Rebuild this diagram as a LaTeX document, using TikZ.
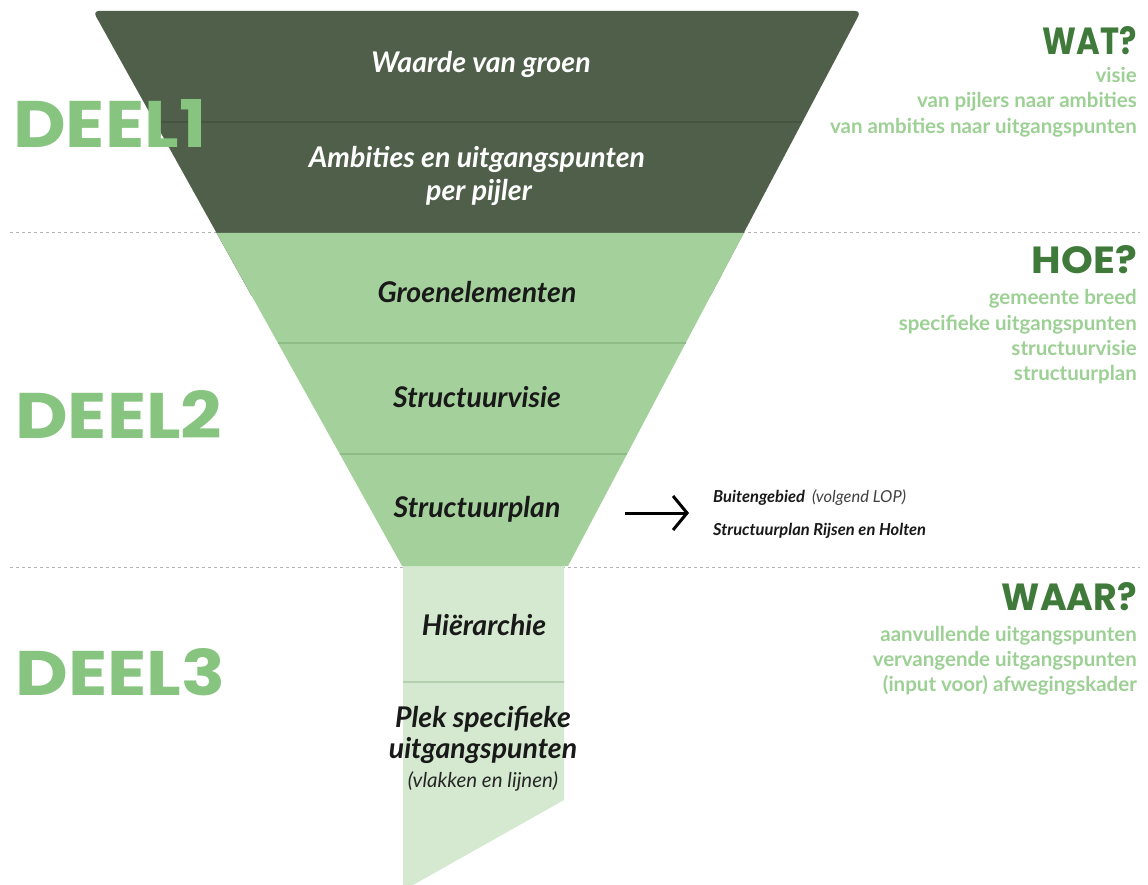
\documentclass[tikz,border=0pt]{standalone}
\usepackage{fontspec}
\setmainfont{Lato}
\newfontfamily\headfont{Poppins}
\usetikzlibrary{arrows.meta}
\definecolor{darkfun}{HTML}{4F5F4A}
\definecolor{darkdiv}{HTML}{45533F}
\definecolor{lightfun}{HTML}{A4D19B}
\definecolor{lightdiv}{HTML}{8DBC85}
\definecolor{stemfill}{HTML}{D4E9CF}
\definecolor{stemdiv}{HTML}{B6CFB0}
\definecolor{deelgreen}{HTML}{86C47F}
\definecolor{headgreen}{HTML}{3F7A3A}
\definecolor{subgreen}{HTML}{9DD094}
\definecolor{sepgray}{HTML}{B4B4B4}
\begin{document}
\begin{tikzpicture}[x=1pt,y=-1pt,
  sepline/.style={sepgray, line width=1pt, dash pattern=on 3pt off 3pt},
  divline/.style={line width=2.5pt},
  funtxt/.style={inner sep=0pt, anchor=base, font=\fontsize{28.5}{32}\selectfont\bfseries\itshape},
  deel/.style={inner sep=0pt, anchor=base west, text=deelgreen, font=\headfont\bfseries},
  head/.style={inner sep=0pt, anchor=base east, text=headgreen, font=\headfont\bfseries},
  sub/.style={inner sep=0pt, anchor=base east, text=subgreen, font=\fontsize{20.5}{24}\selectfont\bfseries},
  small/.style={inner sep=0pt, anchor=base west, text=black!90, font=\fontsize{16.5}{19}\selectfont\bfseries\itshape},
  arrowline/.style={line width=3pt, -{Straight Barb[length=14pt,width=34pt]}}
]
\useasboundingbox (0,0) rectangle (1148,885);
\fill[white] (0,0) rectangle (1148,885);

% dashed separators
\draw[sepline] (10,233) -- (1140,233);
\draw[sepline] (10,567) -- (1140,567);

% stem (deel 3)
\fill[stemfill] (403,566) -- (564,566) -- (564,800) -- (413,885) -- (403,885) -- cycle;
\draw[stemdiv, divline] (403,682) -- (564,682);

% dark part (deel 1), extended below and covered by light part
\fill[darkfun, rounded corners=6pt] (253.9,300) -- (93,11) -- (861,11) -- (708.3,300) -- cycle;
\draw[darkdiv, divline] (154.8,122) -- (802.4,122);

% light part (deel 2)
\fill[lightfun] (216.7,233) -- (743.8,233) -- (568,566) -- (402.1,566) -- cycle;
\draw[lightdiv, divline] (277.9,343) -- (685.7,343);
\draw[lightdiv, divline] (339.8,454) -- (627.1,454);

% funnel texts
\node[funtxt, text=white] (waarde) at (481,73) {Waarde van groen};
\node[funtxt, text=white] (ambities) at (477,168) {Ambities en uitgangspunten};
\node[funtxt, text=white] (pijler) at (479,201) {per pijler};
\node[funtxt, text=black!90] (groen) at (477,302) {Groenelementen};
\node[funtxt, text=black!90] (svisie) at (477,407) {Structuurvisie};
\node[funtxt, text=black!90] (splan) at (477,517) {Structuurplan};
\node[funtxt, text=black!90] (hier) at (484,635) {Hiërarchie};
\node[funtxt, text=black!90] (plek) at (483,727) {Plek specifieke};
\node[funtxt, text=black!90] (uitg) at (483,758) {uitgangspunten};
\node[inner sep=0pt, anchor=base, text=black!85, font=\fontsize{20.5}{24}\selectfont\itshape] (vlak) at (483,787) {(vlakken en lijnen)};

% arrow and side notes
\coordinate (arrS) at (625,513);
\coordinate (arrE) at (689,513);
\draw[arrowline] (arrS) -- (arrE);
\node[small] (buiten) at (713,502) {Buitengebied\hspace{7pt}{\mdseries\color{black!75}(volgend LOP)}};
\node[small] (rijsen) at (713,535) {Structuurplan Rijsen en Holten};

% DEEL labels
\node[deel] (deel1) at (13,148) {\resizebox{193pt}{48pt}{DEEL1}};
\node[deel] (deel2) at (15,438) {\resizebox{207pt}{48pt}{DEEL2}};
\node[deel] (deel3) at (15,695) {\resizebox{210pt}{47pt}{DEEL3}};

% right column
\node[head] (wat) at (1137,55) {\resizebox{94pt}{28pt}{WAT?}};
\node[sub] (w1) at (1137,83) {visie};
\node[sub] (w2) at (1137,108) {van pijlers naar ambities};
\node[sub] (w3) at (1137,134) {van ambities naar uitgangspunten};

\node[head] (hoe) at (1137,274) {\resizebox{105pt}{28pt}{HOE?}};
\node[sub] (h1) at (1137,305) {gemeente breed};
\node[sub] (h2) at (1137,330) {specifieke uitgangspunten};
\node[sub] (h3) at (1137,355) {structuurvisie};
\node[sub] (h4) at (1137,380) {structuurplan};

\node[head] (waar) at (1137,610) {\resizebox{135pt}{28pt}{WAAR?}};
\node[sub] (a1) at (1137,641) {aanvullende uitgangspunten};
\node[sub] (a2) at (1137,666) {vervangende uitgangspunten};
\node[sub] (a3) at (1137,691) {(input voor) afwegingskader};
\end{tikzpicture}
\end{document}
